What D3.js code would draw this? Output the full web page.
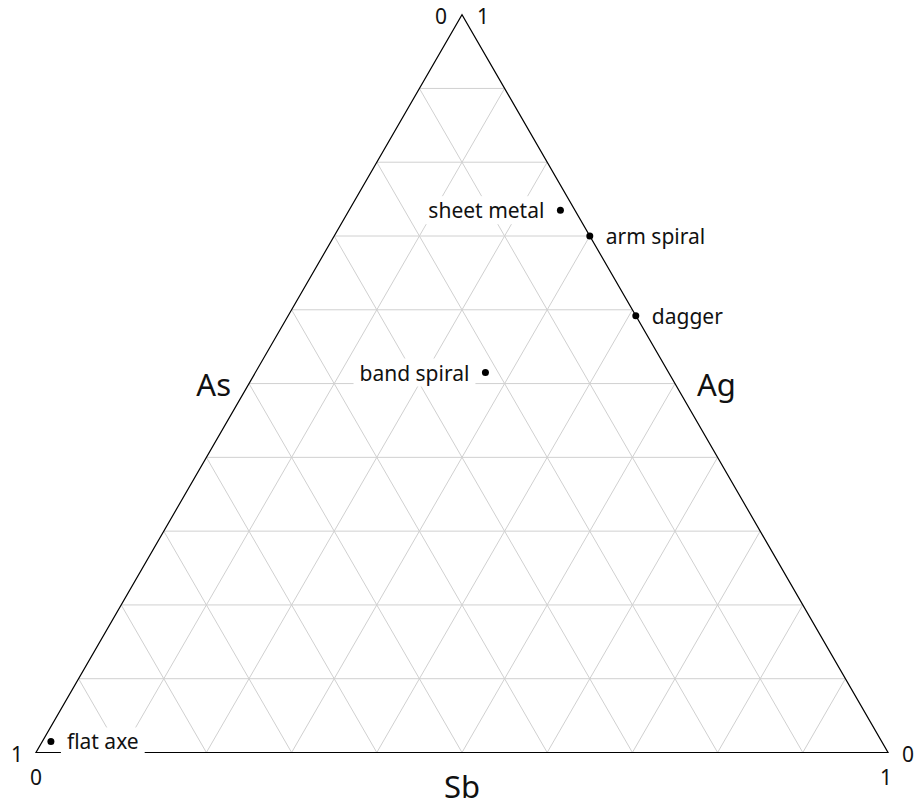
<!DOCTYPE html>
<html>
<head>
<meta charset="utf-8">
<script src="https://cdn.jsdelivr.net/npm/d3@7"></script>
<style>
  html, body { margin: 0; padding: 0; background: #fff; }
  svg { display: block; font-family: "Noto Sans", sans-serif; }
</style>
</head>
<body>
<svg id="chart" width="920" height="805"></svg>
<script>
// Artefact compositions (fractions of As, Sb, Ag; each row sums to 1)
const artefacts = ["sheet metal", "arm spiral", "dagger", "band spiral", "flat axe"];
const asValues  = [0.017, 0.00, 0.000, 0.215, 0.975];
const sbValues  = [0.248, 0.30, 0.408, 0.270, 0.010];
const agValues  = [0.735, 0.70, 0.592, 0.515, 0.015];

// Axis names and the values printed at the corners
const axisNames = ["As", "Sb", "Ag"];
const cornerTicks = ["0", "1"];
const gridSteps = d3.range(1, 10).map(i => i / 10);

// Which side of its dot each label sits on
const labelSide = { "sheet metal": "left", "arm spiral": "right", "dagger": "right",
                    "band spiral": "left", "flat axe": "right" };

const svg = d3.select("#chart");

// Ternary projection: Sb runs along the base, Ag rises to the apex
const left = 36, right = 888, base = 752.5;
const side = right - left;
const apexY = base - side * Math.sqrt(3) / 2;
const xScale = d3.scaleLinear().domain([0, 1]).range([left, right]);
const yScale = d3.scaleLinear().domain([0, 1]).range([base, apexY]);
const project = (a, s, g) => [xScale(s + g / 2), yScale(g)];

const corners = {
  As: project(1, 0, 0),
  Sb: project(0, 1, 0),
  Ag: project(0, 0, 1)
};

// Grid lines for every tenth on each of the three axes
const gridLines = [];
gridSteps.forEach(k => {
  gridLines.push([project(1 - k, 0, k), project(0, 1 - k, k)]); // constant Ag
  gridLines.push([project(1 - k, k, 0), project(0, k, 1 - k)]); // constant Sb
  gridLines.push([project(k, 1 - k, 0), project(k, 0, 1 - k)]); // constant As
});

svg.append("g")
  .selectAll("line")
  .data(gridLines)
  .join("line")
  .attr("x1", d => d[0][0]).attr("y1", d => d[0][1])
  .attr("x2", d => d[1][0]).attr("y2", d => d[1][1])
  .attr("stroke", "#d0d0d0")
  .attr("stroke-width", 1);

// Outline of the triangle
svg.append("path")
  .attr("d", d3.line()([corners.As, corners.Sb, corners.Ag]) + "Z")
  .attr("fill", "none")
  .attr("stroke", "#000")
  .attr("stroke-width", 1.2);

// Corner values
const tickFont = 21;
const ticks = [
  // As axis: 0 at the apex, 1 at the lower left, printed to the left
  { p: corners.Ag, t: cornerTicks[0], dx: -15, dy: 1, anchor: "end" },
  { p: corners.As, t: cornerTicks[1], dx: -13, dy: 1, anchor: "end" },
  // Ag axis: 1 at the apex, 0 at the lower right, printed to the right
  { p: corners.Ag, t: cornerTicks[1], dx: 15, dy: 1, anchor: "start" },
  { p: corners.Sb, t: cornerTicks[0], dx: 14, dy: 1, anchor: "start" },
  // Sb axis: 0 at the lower left, 1 at the lower right, printed below
  { p: corners.As, t: cornerTicks[0], dx: 0, dy: 24, anchor: "middle" },
  { p: corners.Sb, t: cornerTicks[1], dx: -2, dy: 24, anchor: "middle" }
];
svg.append("g")
  .selectAll("text")
  .data(ticks)
  .join("text")
  .attr("x", d => d.p[0] + d.dx)
  .attr("y", d => d.p[1] + d.dy)
  .attr("text-anchor", d => d.anchor)
  .attr("dominant-baseline", "central")
  .attr("font-size", tickFont)
  .attr("fill", "#111")
  .text(d => d.t);

// Axis titles beside the middle of each side
const mid = (p, q) => [(p[0] + q[0]) / 2, (p[1] + q[1]) / 2];
const titleFont = 31;
const titles = [
  { p: mid(corners.Ag, corners.As), t: axisNames[0], dx: -18, dy: 0, anchor: "end" },
  { p: mid(corners.As, corners.Sb), t: axisNames[1], dx: 0, dy: 33, anchor: "middle" },
  { p: mid(corners.Ag, corners.Sb), t: axisNames[2], dx: 22, dy: 0, anchor: "start" }
];
svg.append("g")
  .selectAll("text")
  .data(titles)
  .join("text")
  .attr("x", d => d.p[0] + d.dx)
  .attr("y", d => d.p[1] + d.dy)
  .attr("text-anchor", d => d.anchor)
  .attr("dominant-baseline", "central")
  .attr("font-size", titleFont)
  .attr("fill", "#111")
  .text(d => d.t);

// Points
const points = artefacts.map((name, i) => ({
  name,
  xy: project(asValues[i], sbValues[i], agValues[i])
}));

svg.append("g")
  .selectAll("circle")
  .data(points)
  .join("circle")
  .attr("cx", d => d.xy[0])
  .attr("cy", d => d.xy[1])
  .attr("r", 3.5)
  .attr("fill", "#000");

// Labels on white boxes, drawn above the grid and outline
const labelGap = 16, pad = 6;
const labels = svg.append("g")
  .selectAll("g")
  .data(points)
  .join("g");

labels.append("rect").attr("fill", "#fff");
labels.append("text")
  .attr("x", d => d.xy[0] + (labelSide[d.name] === "left" ? -labelGap : labelGap))
  .attr("y", d => d.xy[1])
  .attr("text-anchor", d => labelSide[d.name] === "left" ? "end" : "start")
  .attr("dominant-baseline", "central")
  .attr("font-size", 21)
  .attr("fill", "#111")
  .text(d => d.name);

labels.each(function () {
  const g = d3.select(this);
  const bb = g.select("text").node().getBBox();
  g.select("rect")
    .attr("x", bb.x - pad)
    .attr("y", bb.y)
    .attr("width", bb.width + pad * 2)
    .attr("height", bb.height);
});
</script>
</body>
</html>
